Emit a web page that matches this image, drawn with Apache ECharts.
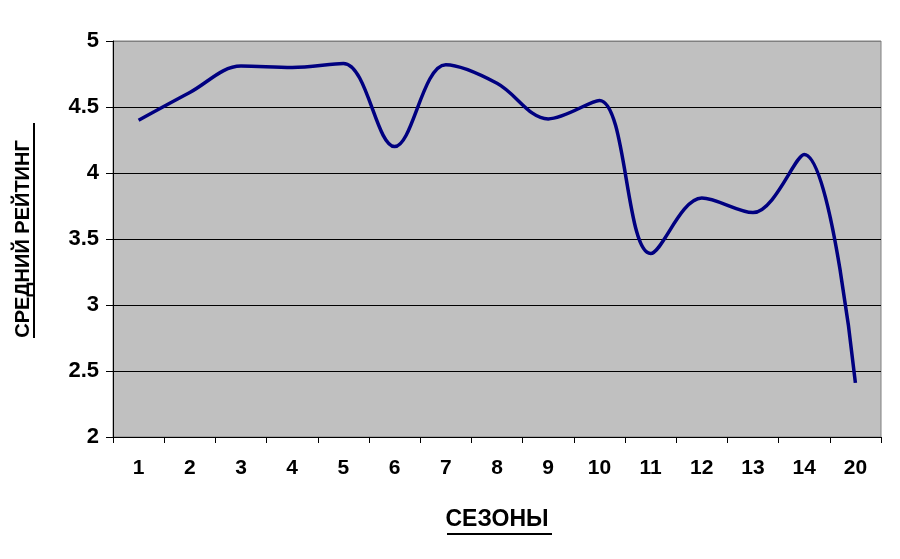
<!DOCTYPE html>
<html>
<head>
<meta charset="utf-8">
<script src="https://cdn.jsdelivr.net/npm/echarts@6/dist/echarts.min.js"></script>
<style>html,body{margin:0;padding:0;background:#fff}#c{width:900px;height:559px}</style>
</head>
<body>
<div id="c"></div>
<script>
var seasons = ['1','2','3','4','5','6','7','8','9','10','11','12','13','14','20'];
var rating = [4.40, 4.61, 4.81, 4.80, 4.83, 4.20, 4.82, 4.68, 4.41, 4.55, 3.39, 3.81, 3.70, 4.14, 2.41];
var yMin = 2, yMax = 5, yStep = 0.5;
var xTitle = 'СЕЗОНЫ';
var yTitle = 'СРЕДНИЙ РЕЙТИНГ';

var chart = echarts.init(document.getElementById('c'));
var font = '"Liberation Sans", Arial, sans-serif';
chart.setOption({
  animation: false,
  backgroundColor: '#ffffff',
  grid: { left: 113, right: 19, top: 41, bottom: 122, show: true, backgroundColor: '#c0c0c0', borderColor: '#808080', borderWidth: 1 },
  xAxis: {
    type: 'category', data: seasons, boundaryGap: true,
    name: xTitle, nameLocation: 'middle', nameGap: 71,
    nameTextStyle: { fontFamily: font, fontWeight: 'bold', fontSize: 23, color: '#000' },
    axisLine: { lineStyle: { color: '#000', width: 1 } },
    axisTick: { show: true, length: 6, lineStyle: { color: '#000' } },
    axisLabel: { margin: 21, fontFamily: font, fontWeight: 'bold', fontSize: 21, color: '#000' },
    splitLine: { show: false }
  },
  yAxis: {
    type: 'value', min: yMin, max: yMax, interval: yStep,
    name: yTitle, nameLocation: 'middle', nameGap: 80, nameRotate: 90,
    nameTextStyle: { fontFamily: font, fontWeight: 'bold', fontSize: 20, color: '#000' },
    axisLine: { show: true, lineStyle: { color: '#000', width: 1 } },
    axisTick: { show: true, length: 7, lineStyle: { color: '#000' } },
    axisLabel: { margin: 14, fontFamily: font, fontWeight: 'bold', fontSize: 22, color: '#000' },
    splitLine: { show: true, lineStyle: { color: ['#000','#000','#000','#000','#000','#000','#808080'], width: 1 } }
  },
  series: [{
    type: 'line', data: rating, smooth: 0.35, symbol: 'none',
    lineStyle: { color: '#000080', width: 3.5 }
  }],
  graphic: [
    { type: 'line', shape: { x1: 447, y1: 534, x2: 552, y2: 534 }, style: { stroke: '#000', lineWidth: 2 } },
    { type: 'line', shape: { x1: 34, y1: 123, x2: 34, y2: 338 }, style: { stroke: '#000', lineWidth: 2 } }
  ]
});
</script>
</body>
</html>
